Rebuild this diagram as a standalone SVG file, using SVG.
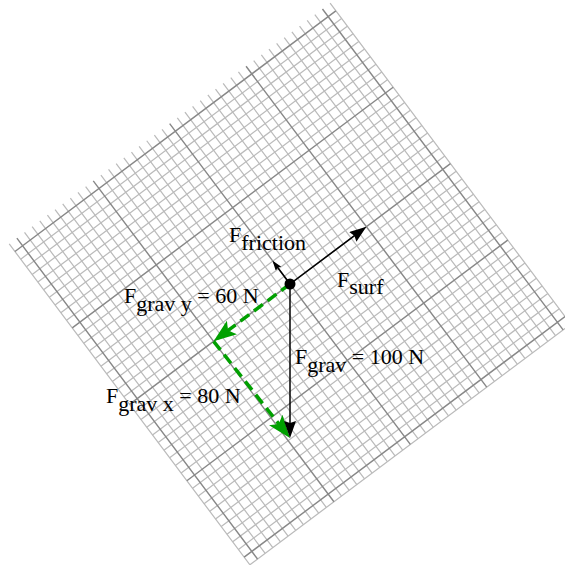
<svg xmlns="http://www.w3.org/2000/svg" width="565" height="565" viewBox="0 0 565 565">
<style>
.minor{fill:none;stroke:#bbbbbb;stroke-width:0.13}
.major{fill:none;stroke:#888888;stroke-width:0.15}
.blk{fill:none;stroke:#000;stroke-width:1.5}
.grn{fill:none;stroke:#00a000;stroke-width:3.5;stroke-dasharray:11 6}
.lbl{font-family:"Liberation Serif","Times New Roman",serif;font-size:22px;fill:#000}
</style>
<defs>
<marker id="ahBlack" markerUnits="userSpaceOnUse" orient="auto" markerWidth="17" markerHeight="12" viewBox="0 0 17 12" refX="13" refY="6">
<path d="M0,0 L17,6 L0,12 L2,6 z" fill="#000"/>
</marker>
<marker id="ahSmall" markerUnits="userSpaceOnUse" orient="auto" markerWidth="10" markerHeight="7" viewBox="0 0 10 7" refX="7.5" refY="3.5">
<path d="M0,0 L10,3.5 L0,7 L1.5,3.5 z" fill="#000"/>
</marker>
<marker id="ahGreen" markerUnits="userSpaceOnUse" orient="auto" markerWidth="23" markerHeight="17" viewBox="0 0 23 17" refX="18" refY="8.5">
<path d="M0,0 L23,8.5 L0,17 L5,8.5 z" fill="#00a000"/>
</marker>
</defs>
<g id="grid" transform="translate(290,284) rotate(-36.87) scale(9.55)">
<path class="minor" d="M-21 -21V21M-19 -21V21M-18 -21V21M-17 -21V21M-16 -21V21M-15 -21V21M-14 -21V21M-13 -21V21M-12 -21V21M-11 -21V21M-9 -21V21M-8 -21V21M-7 -21V21M-6 -21V21M-5 -21V21M-4 -21V21M-3 -21V21M-2 -21V21M-1 -21V21M1 -21V21M2 -21V21M3 -21V21M4 -21V21M5 -21V21M6 -21V21M7 -21V21M8 -21V21M9 -21V21M11 -21V21M12 -21V21M13 -21V21M14 -21V21M15 -21V21M16 -21V21M17 -21V21M18 -21V21M19 -21V21M21 -21V21"/>
<path class="minor" d="M-21 -19H21M-21 -18H21M-21 -17H21M-21 -16H21M-21 -15H21M-21 -14H21M-21 -13H21M-21 -12H21M-21 -11H21M-21 -9H21M-21 -8H21M-21 -7H21M-21 -6H21M-21 -5H21M-21 -4H21M-21 -3H21M-21 -2H21M-21 -1H21M-21 1H21M-21 2H21M-21 3H21M-21 4H21M-21 5H21M-21 6H21M-21 7H21M-21 8H21M-21 9H21M-21 11H21M-21 12H21M-21 13H21M-21 14H21M-21 15H21M-21 16H21M-21 17H21M-21 18H21M-21 19H21M-21 21H21"/>
<path class="major" d="M-20 -21V21M-10 -21V21M0 -21V21M10 -21V21M20 -21V21M-21 -20H21M-21 -10H21M-21 0H21M-21 10H21M-21 20H21"/>
</g>
<g id="connectors">
<line id="fgravy" class="grn" x1="290" y1="284" x2="217.6" y2="338.3" marker-end="url(#ahGreen)"/>
<line id="fgravx" class="grn" x1="213.6" y1="341.3" x2="286.9" y2="434.1" marker-end="url(#ahGreen)"/>
<line id="fgrav" class="blk" x1="290" y1="284" x2="290" y2="434" marker-end="url(#ahBlack)"/>
<line id="fsurf" class="blk" x1="290" y1="284" x2="363.2" y2="229.1" marker-end="url(#ahBlack)"/>
<line id="ffriction" class="blk" x1="290" y1="284" x2="274.1" y2="262.8" marker-end="url(#ahSmall)"/>
</g>
<g id="object">
<circle cx="290" cy="284" r="5.5" fill="#000"/>
</g>
<g id="labels">
<text class="lbl" x="229" y="242">F<tspan dy="8">friction</tspan></text>
<text class="lbl" x="337" y="287">F<tspan dy="7">surf</tspan></text>
<text class="lbl" x="124" y="303">F<tspan dy="8">grav y</tspan><tspan dy="-8"> = 60 N</tspan></text>
<text class="lbl" x="295" y="364">F<tspan dy="8">grav</tspan><tspan dy="-8"> = 100 N</tspan></text>
<text class="lbl" x="106" y="403">F<tspan dy="8">grav x</tspan><tspan dy="-8"> = 80 N</tspan></text>
</g>
</svg>
